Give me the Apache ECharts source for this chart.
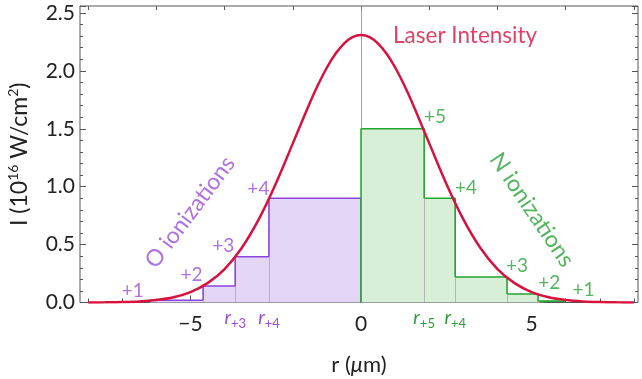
<!DOCTYPE html>
<html><head><meta charset="utf-8">
<script src="https://cdn.jsdelivr.net/npm/echarts@6/dist/echarts.min.js"></script>
<style>html,body{margin:0;padding:0;background:#fff}#c{width:642px;height:379px}</style>
</head><body><div id="c"></div>
<script>
// Laser intensity curve (r in µm, I in 1e16 W/cm^2)
const curveR = [-8,-7.5,-7,-6.5,-6,-5.5,-5,-4.5,-4,-3.5,-3,-2.5,-2,-1.5,-1.25,-1,-0.75,-0.5,-0.25,0,0.25,0.5,0.75,1,1.25,1.5,2,2.5,3,3.5,4,4.5,5,5.5,6,6.5,7,7.5,8];
const curveI = [0.0006,0.0015,0.004,0.0096,0.0215,0.045,0.090,0.167,0.289,0.471,0.718,1.026,1.374,1.725,1.886,2.029,2.147,2.236,2.291,2.31,2.291,2.236,2.147,2.029,1.886,1.725,1.374,1.026,0.718,0.471,0.289,0.167,0.090,0.045,0.0215,0.0096,0.004,0.0015,0.0006];
// O ionization steps (edges along r, level of each step)
const oEdges = [-6.2,-4.63,-3.69,-2.70,0];
const oLevels = [0.02,0.142,0.395,0.90];
// N ionization steps
const nEdges = [0,1.85,2.76,4.28,5.19,5.95];
const nLevels = [1.50,0.90,0.22,0.073,0.012];
// tick labels
const xTickLabels = [-5,0,5];
const xMinorTicks = [-8,-7,-6,-5,-4,-3,-2,-1,0,1,2,3,4,5,6,7,8];
const xTopTicks = [-8,-6,-4,-2,0,2,4,6,8];
const rLabelValues = [oEdges[2], oEdges[3], nEdges[1], nEdges[2]];
const rLabelSubs = ['+3','+4','+5','+4'];
const rLabelGroup = ['o','o','n','n'];
// charge-state annotations
const oCharges = ['+1','+2','+3','+4'];
const oChargePos = [[-6.69,0.10],[-4.97,0.24],[-4.04,0.49],[-3.01,0.98]];
const nCharges = ['+5','+4','+3','+2','+1'];
const nChargePos = [[2.17,1.60],[3.08,0.99],[4.57,0.32],[5.52,0.17],[6.52,0.11]];

const RED = '#d8123f', PURPLE = '#8a45dc', PURPLE_T = '#9a4fdb', GREEN = '#22a52e', GREEN_T = '#2aa337';
const FONT = 'Lato';

function stepPts(edges, levels) {
  const pts = [[edges[0], 0]];
  for (let i = 0; i < levels.length; i++) {
    pts.push([edges[i], levels[i]]);
    pts.push([edges[i + 1], levels[i]]);
  }
  pts.push([edges[edges.length - 1], 0]);
  return pts;
}
function innerLines(edges, levels) {
  const out = [];
  for (let i = 1; i < levels.length; i++) {
    out.push({ coords: [[edges[i], 0], [edges[i], Math.min(levels[i - 1], levels[i])]] });
  }
  return out;
}
const curveData = curveR.map((r, i) => [r, curveI[i]]);

const annData = [];
oCharges.forEach((t, i) => annData.push({ value: oChargePos[i], label: { formatter: t, color: PURPLE_T, fontSize: 19 } }));
nCharges.forEach((t, i) => annData.push({ value: nChargePos[i], label: { formatter: t, color: GREEN_T, fontSize: 19 } }));
annData.push({ value: [-5.01, 0.78], label: { formatter: 'O ionizations', color: PURPLE_T, fontSize: 23, rotate: 53 } });
annData.push({ value: [5.01, 0.80], label: { formatter: 'N ionizations', color: GREEN_T, fontSize: 23, rotate: -56 } });
annData.push({ value: [3.05, 2.30], label: { formatter: 'Laser Intensity', color: RED, fontSize: 22.5 } });

const XMIN = -8.24, XMAX = 8.12;
const baseX = { type: 'value', min: XMIN, max: XMAX, gridIndex: 0, splitLine: { show: false }, axisLine: { show: false, onZero: false } };
const tickStyle = { color: '#555', width: 1 };

const option = {
  animation: false,
  textStyle: { fontFamily: FONT },
  grid: { left: 80, right: 4, top: 6, bottom: 76.5, show: true, borderColor: '#555', borderWidth: 1,
    containLabel: false, outerBoundsMode: 'none' },
  xAxis: [
    Object.assign({}, baseX, {
      position: 'bottom',
      axisTick: { show: true, inside: true, length: 4, customValues: xMinorTicks, lineStyle: tickStyle },
      axisLabel: { show: true, customValues: xTickLabels, fontSize: 21, color: '#222', fontFamily: FONT, margin: 11,
        formatter: v => (v < 0 ? '\u2212' + Math.abs(v) : String(v)) },
      name: '{a|r (}{i|\u03bc}{a|m)}', nameLocation: 'middle', nameGap: 51,
      nameTextStyle: { rich: { a: { fontSize: 22, color: '#222', fontFamily: FONT }, i: { fontSize: 22, color: '#222', fontFamily: FONT, fontStyle: 'italic' } } }
    }),
    Object.assign({}, baseX, {
      position: 'bottom',
      axisTick: { show: true, inside: true, length: 7, customValues: xTickLabels, lineStyle: tickStyle },
      axisLabel: { show: false }
    }),
    Object.assign({}, baseX, {
      position: 'bottom',
      axisTick: { show: false },
      axisLabel: { show: true, customValues: rLabelValues, margin: 2,
        formatter: v => {
          const i = rLabelValues.indexOf(v);
          const g = rLabelGroup[i];
          return '{r' + g + '|r}{s' + g + '|' + rLabelSubs[i] + '}';
        },
        rich: {
          ro: { fontSize: 19, fontStyle: 'italic', color: PURPLE_T, fontFamily: FONT, lineHeight: 26 },
          so: { fontSize: 13, color: PURPLE_T, fontFamily: FONT, verticalAlign: 'bottom', lineHeight: 14 },
          rn: { fontSize: 19, fontStyle: 'italic', color: GREEN_T, fontFamily: FONT, lineHeight: 26 },
          sn: { fontSize: 13, color: GREEN_T, fontFamily: FONT, verticalAlign: 'bottom', lineHeight: 14 }
        } }
    }),
    Object.assign({}, baseX, {
      position: 'top',
      axisTick: { show: true, inside: true, length: 4, customValues: xTopTicks, lineStyle: tickStyle },
      axisLabel: { show: false }
    })
  ],
  yAxis: [
    { type: 'value', min: 0, max: 2.56, interval: 0.5, position: 'left',
      splitLine: { show: false }, axisLine: { show: false, onZero: false },
      axisTick: { show: true, inside: true, length: 6, lineStyle: tickStyle },
      minorTick: { show: true, splitNumber: 5, length: 3, lineStyle: tickStyle },
      axisLabel: { fontSize: 21, color: '#222', fontFamily: FONT, margin: 5, showMaxLabel: false, formatter: v => v.toFixed(1) },
      name: '{a|I (10}{s|16}{a| W/cm}{s|2}{a|)}', nameLocation: 'middle', nameGap: 46, nameRotate: 90,
      nameTextStyle: { rich: { a: { fontSize: 23, color: '#222', fontFamily: FONT, lineHeight: 28 }, s: { fontSize: 14, color: '#222', fontFamily: FONT, verticalAlign: 'top', lineHeight: 14 } } }
    },
    { type: 'value', min: 0, max: 2.56, interval: 0.5, position: 'right',
      splitLine: { show: false }, axisLine: { show: false, onZero: false },
      axisTick: { show: true, inside: true, length: 6, lineStyle: tickStyle },
      minorTick: { show: true, splitNumber: 5, length: 3, lineStyle: tickStyle },
      axisLabel: { show: false }
    }
  ],
  series: [
    { type: 'line', data: stepPts(oEdges, oLevels), symbol: 'none', z: 2,
      lineStyle: { color: PURPLE, width: 1.6 }, areaStyle: { color: '#e3d6f7', opacity: 1 } },
    { type: 'line', data: stepPts(nEdges, nLevels), symbol: 'none', z: 2,
      lineStyle: { color: GREEN, width: 1.6 }, areaStyle: { color: '#d6efd6', opacity: 1 } },
    { type: 'lines', coordinateSystem: 'cartesian2d', data: innerLines(oEdges, oLevels).concat(innerLines(nEdges, nLevels)), z: 3,
      lineStyle: { color: '#a8a8a8', width: 0.8, opacity: 1 }, symbol: 'none' },
    { type: 'line', data: curveData, symbol: 'none', smooth: 0.35, z: 5,
      lineStyle: { color: RED, width: 2.5 },
      markLine: { silent: true, symbol: 'none', label: { show: false }, lineStyle: { color: '#888', width: 0.8, type: 'solid' }, data: [{ xAxis: 0 }] } },
    { type: 'scatter', data: annData, symbolSize: 1, itemStyle: { color: 'rgba(0,0,0,0)' }, z: 6,
      label: { show: true, position: 'inside', fontFamily: FONT } }
  ]
};
const chart = echarts.init(document.getElementById('c'));
chart.setOption(option);
</script></body></html>
